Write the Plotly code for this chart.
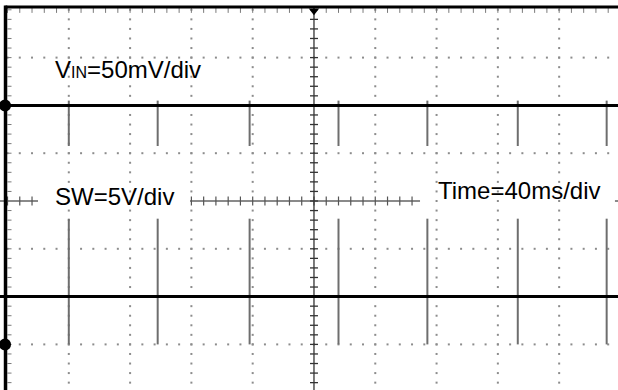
import numpy as np
import plotly.graph_objects as go

# ---- scope settings / data ----
TIME_PER_DIV_MS = 40          # Time=40ms/div
H_DIVS = 10
V_DIVS = 8

# channel levels in divisions (screen units)
vin_ground_div = 2.0          # CH1 ground marker
vin_level_div = 2.0           # VIN trace (flat, 50mV/div)
sw_ground_div = -3.0          # CH2 ground marker
sw_level_div = -2.0           # SW trace baseline (5V/div)

# switching edges of SW (ms)
sw_edge_ms = [-160, -102, -42, 16, 74, 133, 191]
sw_spike_segments_div = [(-3.0, -0.37), (1.15, 2.1)]

labels = ["V<span style='font-size:16px'>IN</span>=50mV/div", "SW=5V/div", "Time=40ms/div"]
label_pos = [(-170.5, 2.76), (-170.5, 0.1), (79.8, 0.21)]

# ---- axes geometry ----
x_range = [-204.9, 198.4]
y_range = [-3.954, 4.205]
px_ms = 618 / (x_range[1] - x_range[0])
px_div = 390 / (y_range[1] - y_range[0])

fig = go.Figure()

# dotted graticule
dx = TIME_PER_DIV_MS / 5
dots_x, dots_y = [], []
for i in range(-4, 5):
    if i == 0:
        continue
    ys = np.arange(-4, 4.01, 0.2)
    dots_x += [i * TIME_PER_DIV_MS] * len(ys)
    dots_y += list(ys)
for j in range(-3, 4):
    if j == 0:
        continue
    xs = np.arange(-200, 200.1, dx)
    dots_x += list(xs)
    dots_y += [j] * len(xs)
fig.add_trace(go.Scatter(x=dots_x, y=dots_y, mode="markers",
                         marker=dict(symbol="square", size=2, color="#8c8c8c", line=dict(width=0)),
                         hoverinfo="skip", showlegend=False))

# border ticks (top + left)
tx, ty = [], []
for xv in np.arange(-200, 200.1, dx):
    tx += [xv, xv, None]
    ty += [4.04, 4.04 - 5 / px_div, None]
for yv in np.arange(-4, 4.01, 0.2):
    tx += [-200, -200 + 4 / px_ms, None]
    ty += [yv, yv, None]
fig.add_trace(go.Scatter(x=tx, y=ty, mode="lines", line=dict(color="#7a7a7a", width=1),
                         hoverinfo="skip", showlegend=False))

# center horizontal axis (segments, gaps behind labels)
segments = [(-206, -180.1), (-80.9, 69.2), (196.4, 206)]
cx, cy, ctx, cty = [], [], [], []
for a, b in segments:
    cx += [a, b, None]
    cy += [0, 0, None]
    for xv in np.arange(-200, 200.1, dx):
        if a <= xv <= b:
            ctx += [xv, xv, None]
            cty += [-4.5 / px_div, 4.5 / px_div, None]
fig.add_trace(go.Scatter(x=cx, y=cy, mode="lines", line=dict(color="#8a8a8a", width=2),
                         hoverinfo="skip", showlegend=False))
fig.add_trace(go.Scatter(x=ctx, y=cty, mode="lines", line=dict(color="#555", width=1.2),
                         hoverinfo="skip", showlegend=False))

# center vertical axis with ticks
vx, vy = [0, 0, None], [-4.3, 4.05, None]
for yv in np.arange(-4, 4.01, 0.2):
    vx += [-4 / px_ms, 4 / px_ms, None]
    vy += [yv, yv, None]
fig.add_trace(go.Scatter(x=vx, y=vy, mode="lines", line=dict(color="#333", width=1.3),
                         hoverinfo="skip", showlegend=False))

# SW switching spikes
spx, spy = [], []
for t in sw_edge_ms:
    for lo, hi in sw_spike_segments_div:
        spx += [t, t, None]
        spy += [lo, hi, None]
fig.add_trace(go.Scatter(x=spx, y=spy, mode="lines", line=dict(color="#6e6e6e", width=2),
                         hoverinfo="skip", showlegend=False))

# traces
fig.add_trace(go.Scatter(x=[-206, 206], y=[vin_level_div, vin_level_div], mode="lines",
                         line=dict(color="black", width=3), showlegend=False))
fig.add_trace(go.Scatter(x=[-206, 206], y=[sw_level_div, sw_level_div], mode="lines",
                         line=dict(color="black", width=3), showlegend=False))

# frame: top and left borders
fig.add_trace(go.Scatter(x=[-201.3, 206], y=[4.06, 4.06], mode="lines",
                         line=dict(color="black", width=3), hoverinfo="skip", showlegend=False))
fig.add_trace(go.Scatter(x=[-201.3, -201.3], y=[-4.3, 4.09], mode="lines",
                         line=dict(color="black", width=3.5), hoverinfo="skip", showlegend=False))

# ground markers and trigger marker
fig.add_trace(go.Scatter(x=[-201.6, -201.6], y=[vin_ground_div, sw_ground_div], mode="markers",
                         marker=dict(symbol="circle", size=12, color="black"),
                         cliponaxis=False, showlegend=False))
fig.add_trace(go.Scatter(x=[0], y=[3.98], mode="markers",
                         marker=dict(symbol="triangle-down", size=9, color="black"),
                         cliponaxis=False, showlegend=False))

for txt, (lx, ly) in zip(labels, label_pos):
    fig.add_annotation(x=lx, y=ly, text=txt, showarrow=False, xanchor="left", yanchor="middle",
                       font=dict(family="Liberation Sans, Arial", size=24, color="black"))

fig.update_layout(
    width=618, height=390, margin=dict(l=0, r=0, t=0, b=0),
    paper_bgcolor="white", plot_bgcolor="white", showlegend=False,
    xaxis=dict(range=x_range, visible=False, fixedrange=True),
    yaxis=dict(range=y_range, visible=False, fixedrange=True),
)
fig.write_html("out.html", config={"displayModeBar": False},
               post_script="document.body.style.margin='0';document.body.style.overflow='hidden';")
